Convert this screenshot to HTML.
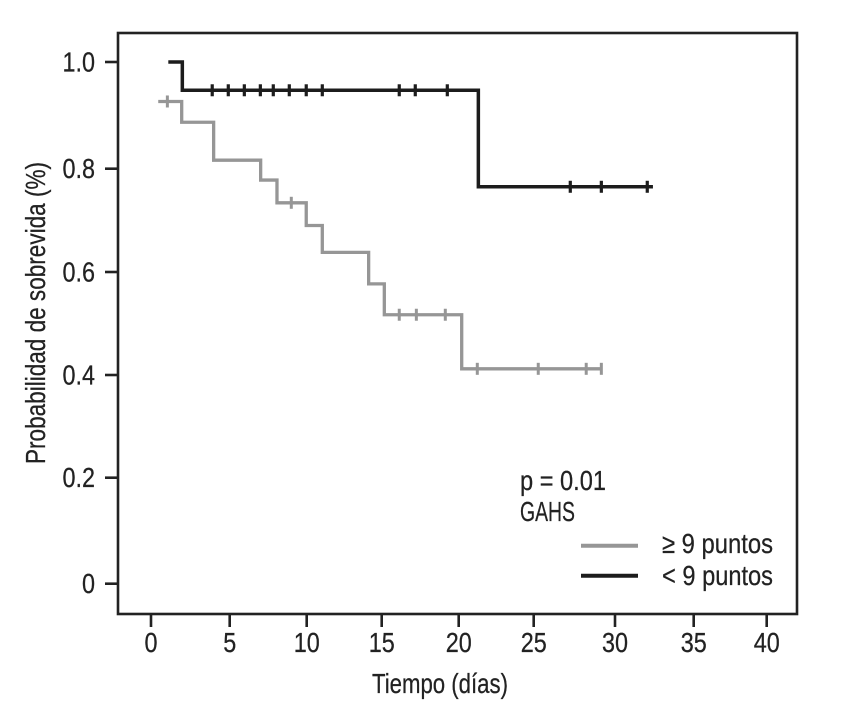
<!DOCTYPE html>
<html lang="es">
<head>
<meta charset="utf-8">
<title>Curva de supervivencia</title>
<style>
html,body{margin:0;padding:0;background:#fff;width:862px;height:712px;overflow:hidden}
svg{display:block}
text{font-family:"Liberation Sans",Arial,sans-serif;fill:#222;stroke:#222;stroke-width:.25px;font-size:27.5px}
</style>
</head>
<body>
<svg id="chart" width="862" height="712" viewBox="0 0 862 712" xmlns="http://www.w3.org/2000/svg">
<rect x="118" y="33" width="679" height="581" fill="none" stroke="#222" stroke-width="2.6"/>
<g id="axes"></g>
<g id="series"></g>
<text transform="translate(45,464) rotate(-90)" textLength="302" lengthAdjust="spacingAndGlyphs">Probabilidad de sobrevida (%)</text>
<text x="372" y="693" textLength="136" lengthAdjust="spacingAndGlyphs">Tiempo (días)</text>
<text x="520" y="490" textLength="86" lengthAdjust="spacingAndGlyphs">p = 0.01</text>
<text x="520" y="521" textLength="55" lengthAdjust="spacingAndGlyphs">GAHS</text>
<line x1="581" x2="638" y1="545.7" y2="545.7" stroke="#969696" stroke-width="4"/>
<text x="662" y="553" textLength="111" lengthAdjust="spacingAndGlyphs">≥ 9 puntos</text>
<line x1="581" x2="638" y1="575.7" y2="575.7" stroke="#1c1c1c" stroke-width="4"/>
<text x="662" y="585" textLength="111" lengthAdjust="spacingAndGlyphs">&lt; 9 puntos</text>
</svg>
<script>
const xTicks = [0, 5, 10, 15, 20, 25, 30, 35, 40];
const xTickLabels = ["0", "5", "10", "15", "20", "25", "30", "35", "40"];
const yTicks = [1, 0.8, 0.6, 0.4, 0.2, 0];
const yTickLabels = ["1.0", "0.8", "0.6", "0.4", "0.2", "0"];

const lowTimes = [1.10, 1.99, 21.31, 32.41];
const lowSurvival = [1, 0.947, 0.765, 0.765];
const lowCensored = [3.89, 4.91, 5.95, 6.99, 7.83, 8.87, 9.97, 11.04, 16.14, 17.18, 19.26, 27.25, 29.16, 32.05];

const highTimes = [0.46, 1.95, 3.98, 7.01, 8.07, 9.97, 11.04, 14.13, 15.17, 20.2, 29.18];
const highSurvival = [0.926, 0.887, 0.816, 0.778, 0.734, 0.69, 0.638, 0.577, 0.517, 0.412, 0.412];
const highCensored = [1.04, 9.0, 16.14, 17.25, 19.13, 21.24, 25.28, 28.23, 29.16];

const NS = "http://www.w3.org/2000/svg";
const axes = document.getElementById("axes");
const seriesLayer = document.getElementById("series");

/* The printed axes are slightly uneven, so each scale is calibrated per tick interval. */
function interpolate(v, domain, range) {
  const lo = Math.min(domain[0], domain[domain.length - 1]);
  const hi = Math.max(domain[0], domain[domain.length - 1]);
  const c = Math.max(lo, Math.min(hi, v));
  for (let i = 0; i < domain.length - 1; i++) {
    const a = domain[i];
    const b = domain[i + 1];
    if (c >= Math.min(a, b) && c <= Math.max(a, b)) {
      return range[i] + (c - a) / (b - a) * (range[i + 1] - range[i]);
    }
  }
  return range[0];
}
const xScale = function (v) {
  return interpolate(v, xTicks, [151, 229.7, 306.7, 381.7, 458.7, 533.7, 615, 693.7, 766.7]);
};
const yScale = function (v) {
  return interpolate(v, yTicks, [62, 168.7, 272, 375, 477.7, 583.7]);
};

function makeLine(parent, x1, y1, x2, y2, color, width) {
  const l = document.createElementNS(NS, "line");
  l.setAttribute("x1", x1);
  l.setAttribute("y1", y1);
  l.setAttribute("x2", x2);
  l.setAttribute("y2", y2);
  l.setAttribute("stroke", color);
  l.setAttribute("stroke-width", width);
  parent.appendChild(l);
  return l;
}

function makeLabel(parent, str, x, y, anchor) {
  const t = document.createElementNS(NS, "text");
  t.textContent = str;
  t.setAttribute("x", x);
  t.setAttribute("y", y);
  t.setAttribute("text-anchor", anchor);
  parent.appendChild(t);
  const natural = t.getComputedTextLength();
  t.setAttribute("lengthAdjust", "spacingAndGlyphs");
  t.setAttribute("textLength", natural * 0.85);
  return t;
}

xTicks.forEach(function (v, i) {
  const tick = makeLine(axes, xScale(v), 614, xScale(v), 627, "#222", 2.6);
  
  
  const label = makeLabel(axes, xTickLabels[i], xScale(v), 652, "middle");
  
  
});

yTicks.forEach(function (v, i) {
  const tick = makeLine(axes, 105, yScale(v), 118, yScale(v), "#222", 2.6);
  
  
  const label = makeLabel(axes, yTickLabels[i], 95, yScale(v) + 9.5, "end");
  
  
});

function survivalAt(times, survival, t) {
  let s = survival[0];
  for (let i = 0; i < times.length; i++) {
    if (times[i] <= t) { s = survival[i]; }
  }
  return s;
}

function drawSeries(times, survival, censored, color, width, tickWidth) {
  let d = "M" + xScale(times[0]) + " " + yScale(survival[0]);
  for (let i = 1; i < times.length; i++) {
    d += "H" + xScale(times[i]) + "V" + yScale(survival[i]);
  }
  const p = document.createElementNS(NS, "path");
  p.setAttribute("d", d);
  p.setAttribute("fill", "none");
  p.setAttribute("stroke", color);
  p.setAttribute("stroke-width", width);
  p.setAttribute("stroke-linejoin", "miter");
  seriesLayer.appendChild(p);
  const marks = censored.map(function (t) {
    const y = yScale(survivalAt(times, survival, t));
    return makeLine(seriesLayer, xScale(t), y - 6, xScale(t), y + 6, color, tickWidth);
  });
  return { path: p, marks: marks };
}

const highDrawn = drawSeries(highTimes, highSurvival, highCensored, "#969696", 3.3, 3);


highDrawn.marks.forEach(function (m) {
  
  
});

const lowDrawn = drawSeries(lowTimes, lowSurvival, lowCensored, "#1c1c1c", 3.5, 3.2);


lowDrawn.marks.forEach(function (m) {
  
  
});
</script>
</body>
</html>
